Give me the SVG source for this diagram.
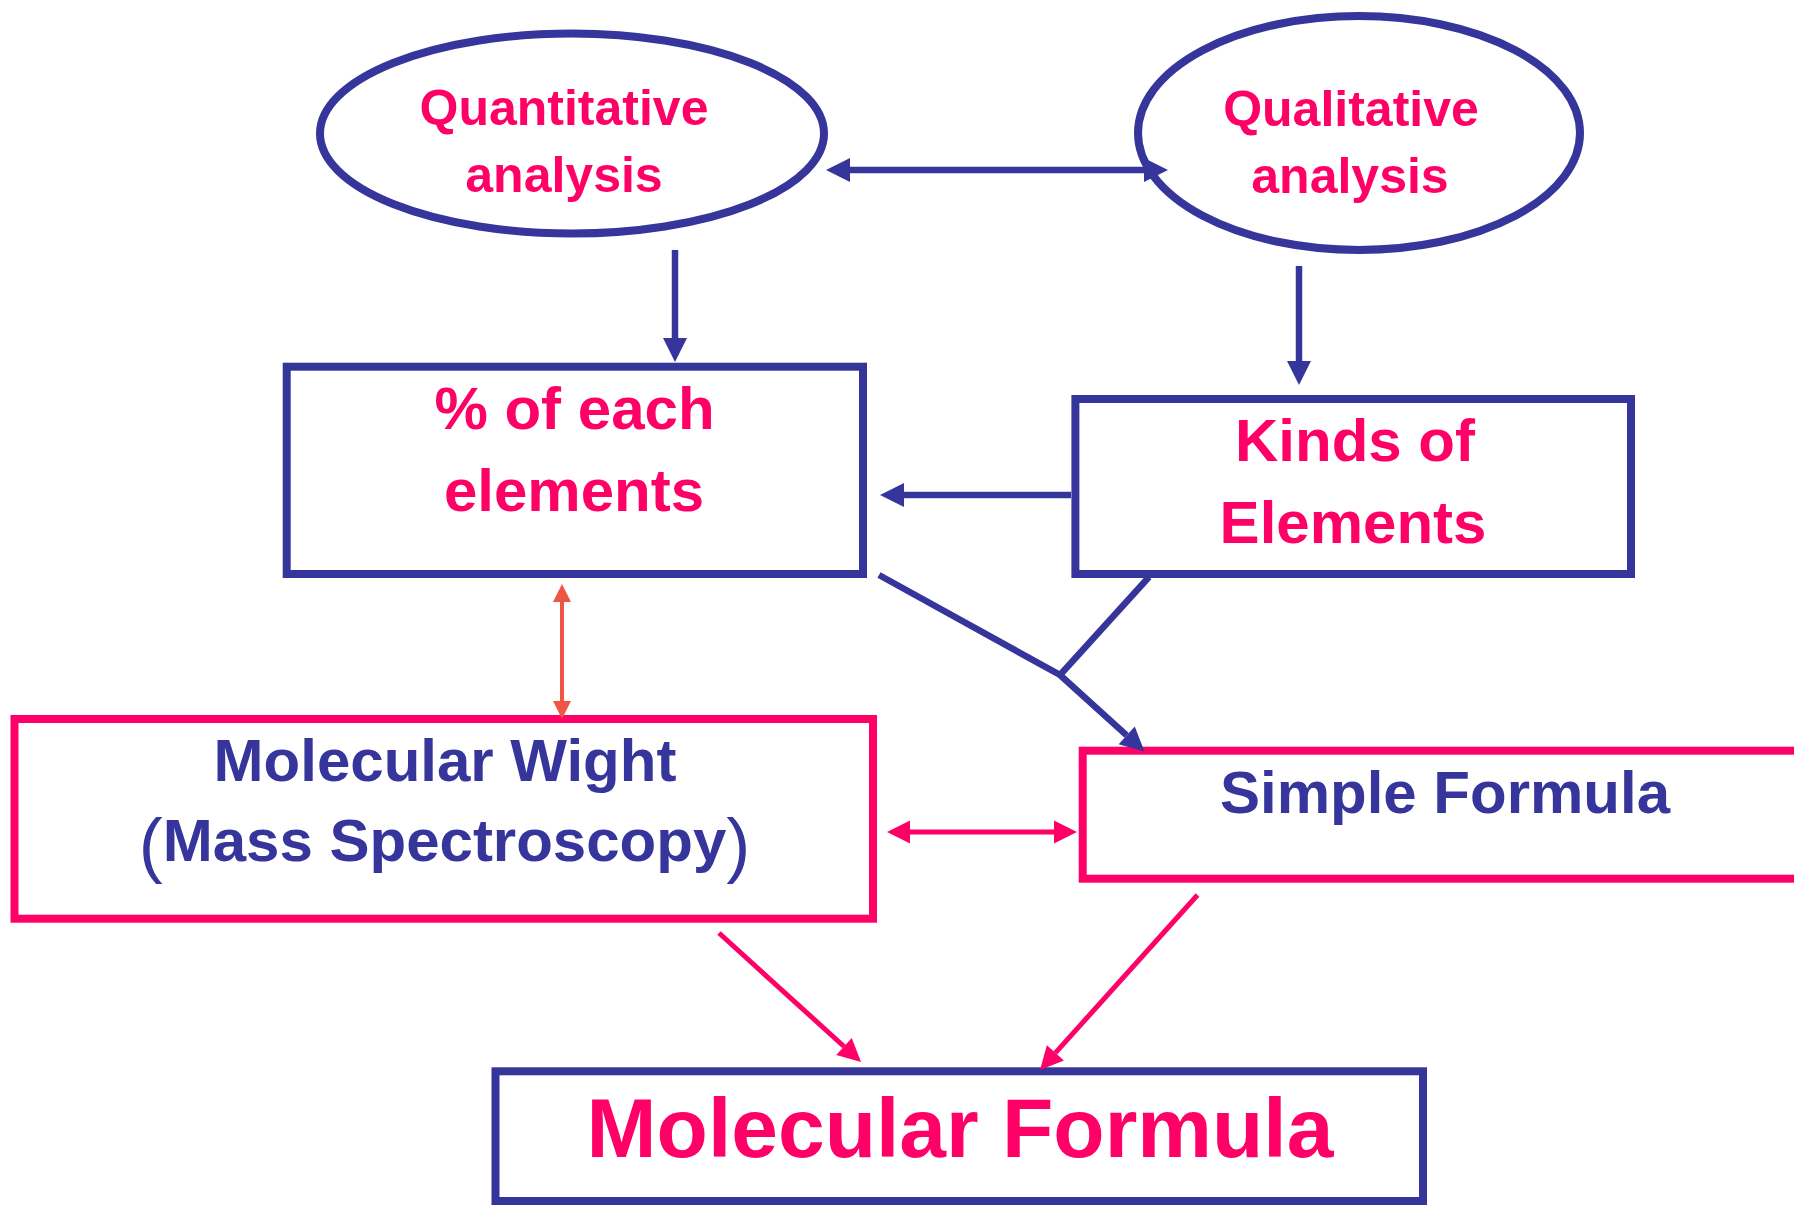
<svg xmlns="http://www.w3.org/2000/svg" width="1794" height="1205" viewBox="0 0 1794 1205">
<style>
.bg{fill:#ffffff}
.nv{fill:none;stroke:#35359B;stroke-width:8}
.ell{fill:none;stroke:#35359B;stroke-width:8}
.pk{fill:none;stroke:#FF0066;stroke-width:8}
text{font-family:"Liberation Sans",Arial,sans-serif;font-weight:bold;text-anchor:middle}
.tp{fill:#FF0066}
.tn{fill:#35359B}
.cn{fill:none;stroke:#35359B;stroke-width:6.5;stroke-linejoin:miter}
.cp{fill:none;stroke:#FF0066;stroke-width:5}
.co{fill:none;stroke:#EE5544;stroke-width:4}
</style>
<defs>
<marker id="hn" markerUnits="userSpaceOnUse" markerWidth="24" markerHeight="24" refX="0" refY="12" orient="auto-start-reverse" overflow="visible"><path d="M0,0 L24,12 L0,24 z" fill="#35359B"/></marker>
<marker id="hp" markerUnits="userSpaceOnUse" markerWidth="23" markerHeight="24" refX="0" refY="12" orient="auto-start-reverse" overflow="visible"><path d="M0,0.5 L23,12 L0,23.5 z" fill="#FF0066"/></marker>
<marker id="ho" markerUnits="userSpaceOnUse" markerWidth="18" markerHeight="18" refX="0" refY="9" orient="auto-start-reverse" overflow="visible"><path d="M0,0 L18,9 L0,18 z" fill="#EE5544"/></marker>
</defs>
<rect class="bg" x="0" y="0" width="1794" height="1205"/>

<g id="quantitative">
<ellipse class="ell" cx="572" cy="133.5" rx="252" ry="100"/>
<text class="tp" x="564" y="125" font-size="50">Quantitative</text>
<text class="tp" x="564" y="192" font-size="50">analysis</text>
</g>

<g id="qualitative">
<ellipse class="ell" cx="1359" cy="133" rx="221" ry="117"/>
<text class="tp" x="1351" y="126" font-size="50">Qualitative</text>
<text class="tp" x="1350" y="193" font-size="50">analysis</text>
</g>

<g id="percent">
<rect class="nv" x="286.7" y="366.7" width="576.3" height="207.3"/>
<text class="tp" x="574.5" y="429" font-size="60">% of each</text>
<text class="tp" x="574" y="511" font-size="60">elements</text>
</g>

<g id="kinds">
<rect class="nv" x="1075.4" y="399" width="555.6" height="175"/>
<text class="tp" x="1355" y="461" font-size="60">Kinds of</text>
<text class="tp" x="1353" y="543" font-size="60">Elements</text>
</g>

<g id="molweight">
<rect class="pk" x="14.5" y="719" width="858.5" height="199.7"/>
<text class="tn" x="445" y="781" font-size="60">Molecular Wight</text>
<text class="tn" x="444.5" y="861" font-size="60"><tspan font-size="72" font-weight="normal" dy="8">(</tspan><tspan dy="-8">Mass Spectroscopy</tspan><tspan font-size="72" font-weight="normal" dy="8">)</tspan></text>
</g>

<g id="simple">
<rect class="pk" x="1082.7" y="750.7" width="800" height="128"/>
<text class="tn" x="1445" y="813" font-size="60">Simple Formula</text>
</g>

<g id="molformula">
<rect class="nv" x="495.5" y="1071.3" width="927.5" height="129.7"/>
<text class="tp" x="960" y="1157" font-size="84">Molecular Formula</text>
</g>

<g id="connectors">
<line class="cn" x1="850" y1="170" x2="1144" y2="170" marker-start="url(#hn)" marker-end="url(#hn)"/>
<line class="cn" x1="675" y1="250" x2="675" y2="338" marker-end="url(#hn)"/>
<line class="cn" x1="1299" y1="266" x2="1299" y2="361" marker-end="url(#hn)"/>
<line class="cn" x1="1071" y1="495" x2="904" y2="495" marker-end="url(#hn)"/>
<polyline class="cn" points="879,575 1060,675 1126.7,735.3" marker-end="url(#hn)"/>
<line class="cn" x1="1149" y1="577" x2="1060" y2="675"/>
<line class="co" x1="562" y1="602" x2="562" y2="701" marker-start="url(#ho)" marker-end="url(#ho)"/>
<line class="cp" x1="910" y1="832" x2="1054" y2="832" marker-start="url(#hp)" marker-end="url(#hp)"/>
<line class="cp" x1="719" y1="933" x2="844" y2="1046.5" marker-end="url(#hp)"/>
<line class="cp" x1="1197.5" y1="895" x2="1055.4" y2="1052.9" marker-end="url(#hp)"/>
</g>
</svg>
